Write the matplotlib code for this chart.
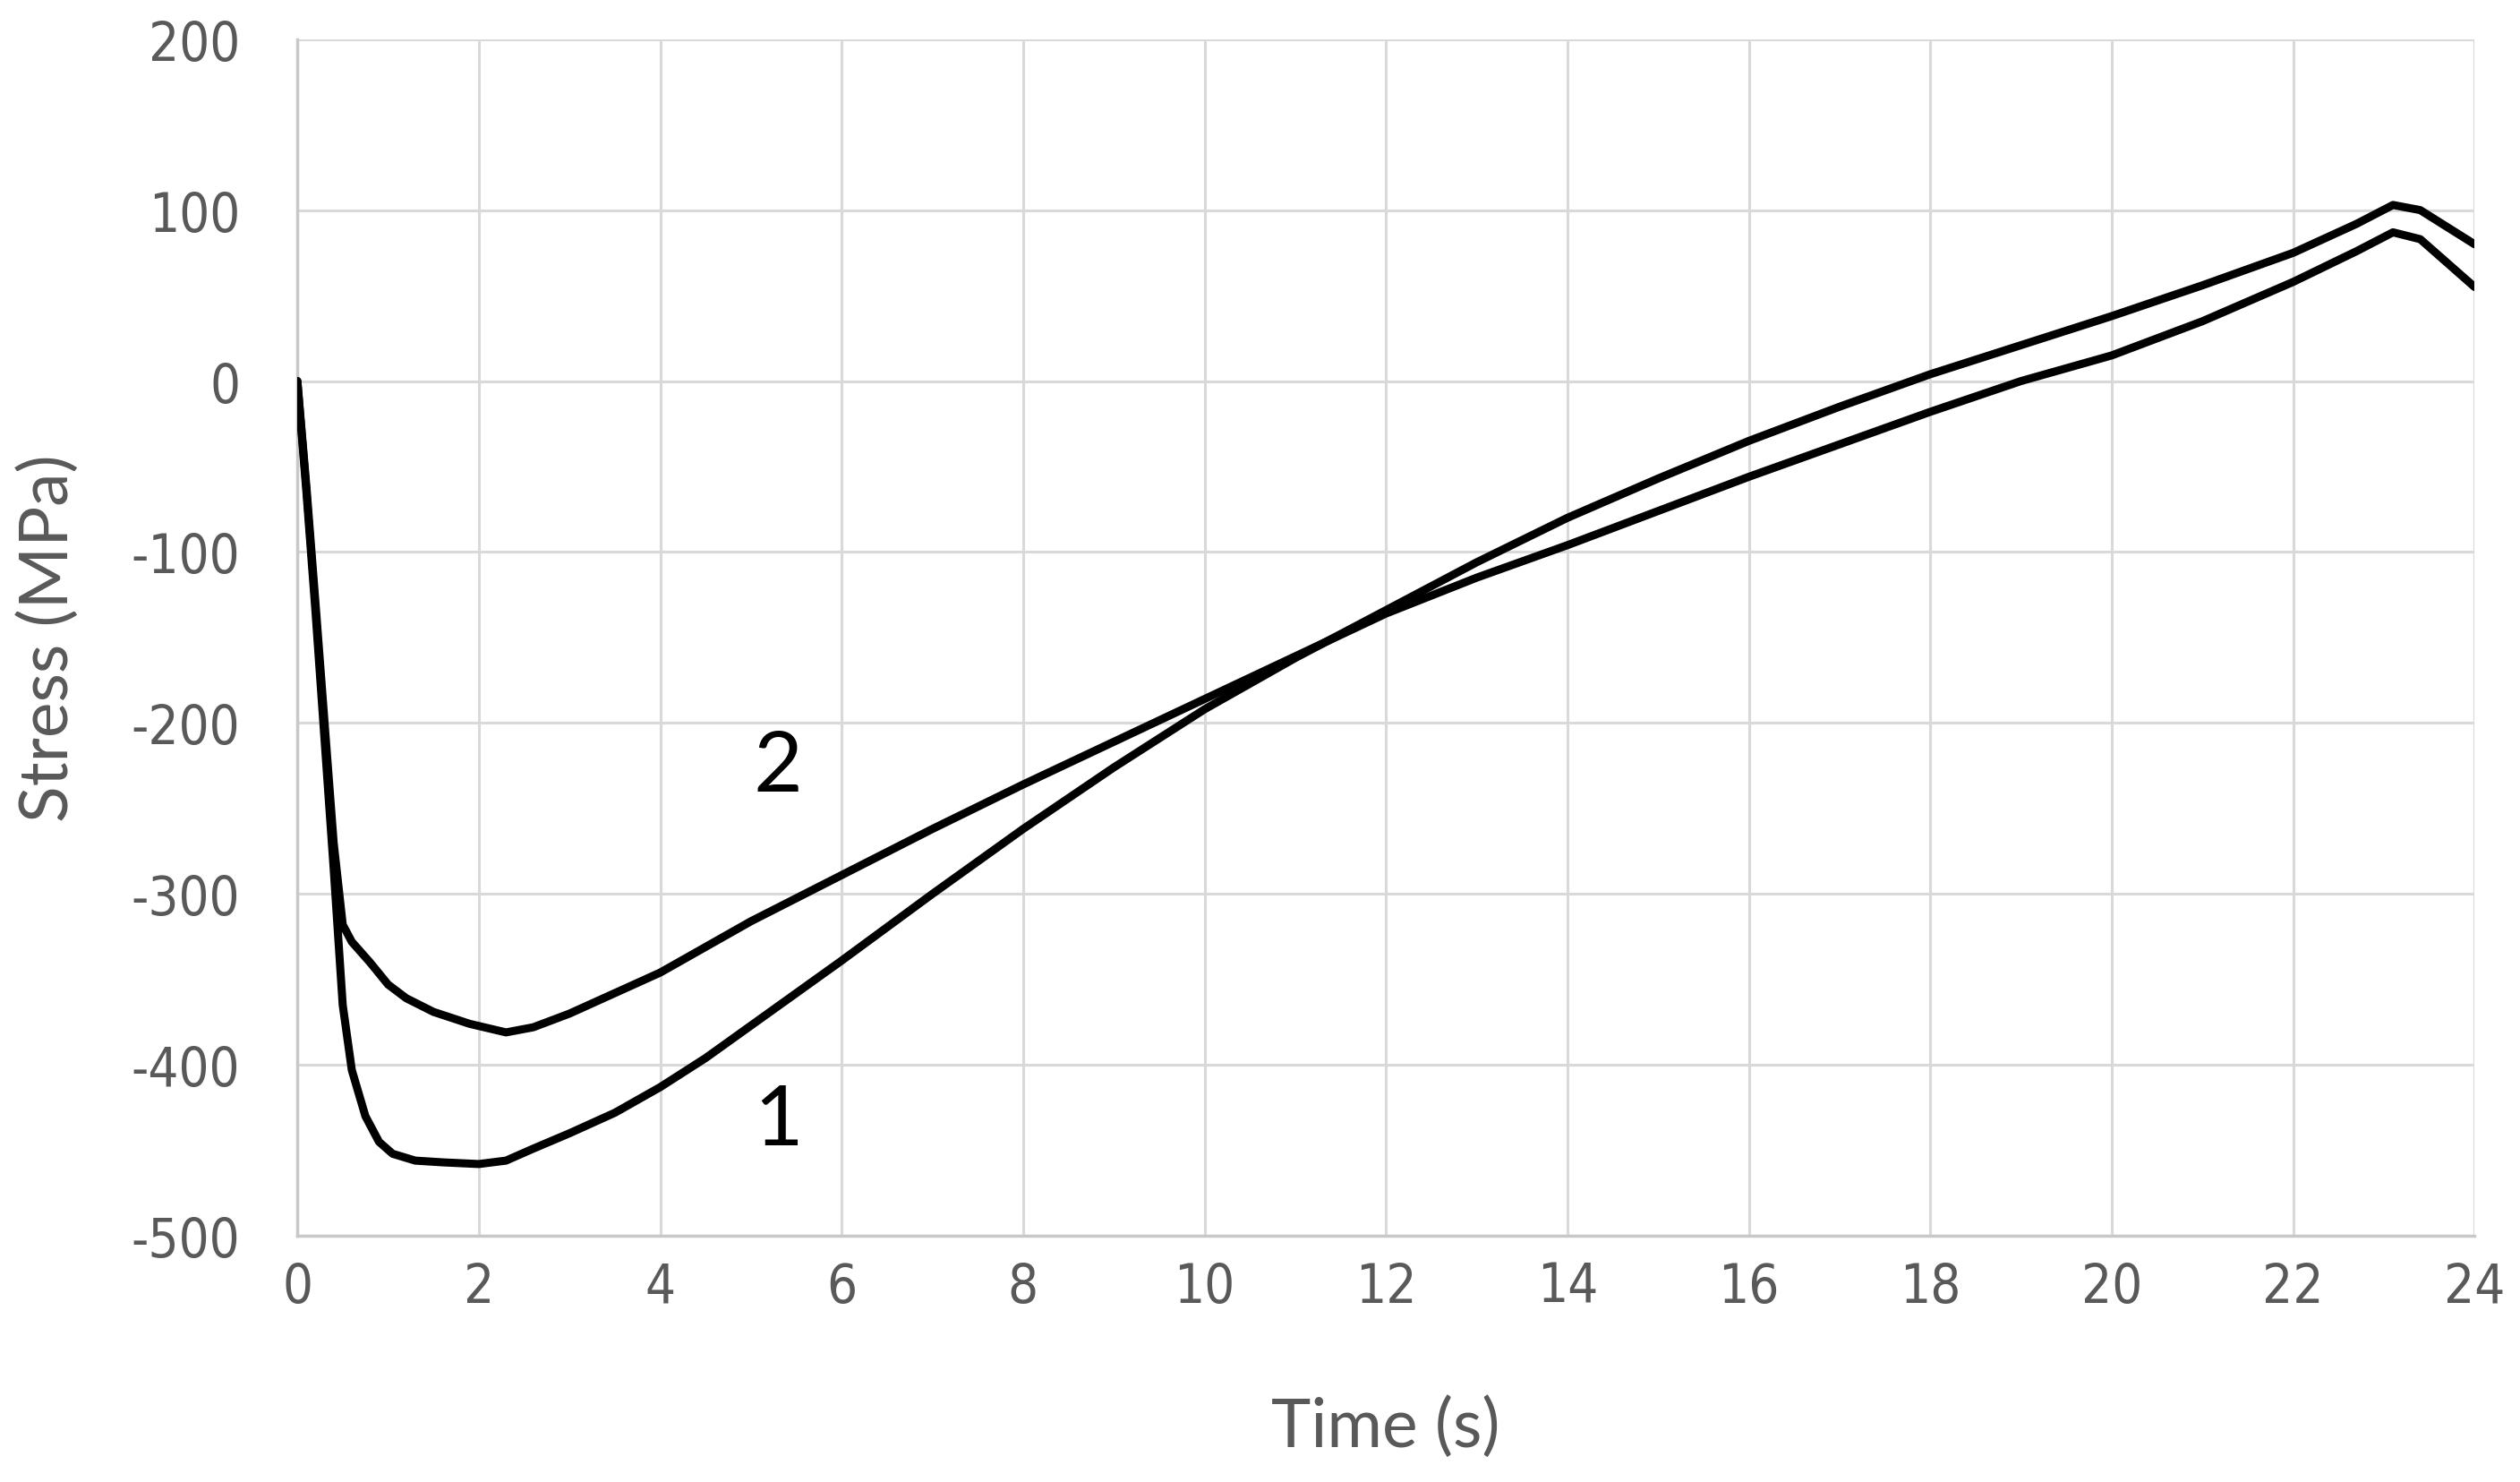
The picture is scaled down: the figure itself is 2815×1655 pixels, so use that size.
import matplotlib
matplotlib.use("Agg")
import matplotlib.pyplot as plt
from matplotlib import font_manager as fm

# ---- data ----
time_1 = [0, 0.1, 0.2, 0.3, 0.4, 0.5, 0.6, 0.75, 0.9, 1.05, 1.3, 1.6, 2.0, 2.3, 2.6, 3.0, 3.5, 4.0, 4.5, 5.0,
          6.0, 7.0, 8.0, 9.0, 10.0, 11.0, 12.0, 13.0, 14.0, 15.0, 16.0, 17.0, 18.0, 19.0, 20.0, 21.0, 22.0,
          22.7, 23.1, 23.4, 24.0]
stress_1 = [0, -65, -135, -210, -285, -365, -403, -430, -445, -452, -456, -457, -458, -456, -449, -440, -428, -413,
            -396, -377, -339, -300, -262, -226, -192, -162, -134, -106, -80, -57, -35, -15, 4, 21, 38, 56, 75,
            92, 103, 100, 80]

time_2 = [0, 0.1, 0.2, 0.3, 0.4, 0.5, 0.6, 0.8, 1.0, 1.2, 1.5, 1.9, 2.3, 2.6, 3.0, 3.5, 4.0, 4.5, 5.0,
          6.0, 7.0, 8.0, 9.0, 10.0, 11.0, 12.0, 13.0, 14.0, 15.0, 16.0, 17.0, 18.0, 19.0, 20.0, 21.0, 22.0,
          22.7, 23.1, 23.4, 24.0]
stress_2 = [0, -62, -130, -200, -270, -318, -328, -340, -353, -361, -369, -376, -381, -378, -370, -358, -346,
            -331, -316, -289, -262, -236, -211, -186, -161, -136, -115, -96, -76, -56, -37, -18, 0, 15, 35, 58,
            76, 87, 83, 55]

x_ticks = list(range(0, 25, 2))
y_ticks = list(range(-500, 201, 100))
curve_labels = ["1", "2"]
label_pos_t = [5.3, 5.3]
label_pos_s = [-433, -226]

# ---- choose a narrow font for tick labels if one is installed ----
names = {f.name for f in fm.fontManager.ttflist}
tick_font = None
if 'Liberation Sans Narrow' in names:
    tick_font = dict(family='Liberation Sans Narrow')
else:
    cond = [f for f in fm.fontManager.ttflist if f.name == 'DejaVu Sans' and 'ondensed' in f.fname
            and f.weight in (400, 'normal') and f.style == 'normal']
    if cond:
        tick_font = dict(fname=cond[0].fname)

# ---- figure ----
plt.rcParams['font.family'] = ['Lato', 'DejaVu Sans']
plt.rcParams['axes.unicode_minus'] = False
fig = plt.figure(figsize=(28.15, 16.56), dpi=100)
ax = fig.add_axes([0.118, 0.166, 0.864, 0.807])

ax.plot(time_1, stress_1, color='black', lw=6.5, solid_joinstyle='round', solid_capstyle='round', zorder=3)
ax.plot(time_2, stress_2, color='black', lw=6.5, solid_joinstyle='round', solid_capstyle='round', zorder=3)

for lab, t, s in zip(curve_labels, label_pos_t, label_pos_s):
    ax.text(t, s, lab, fontsize=68, color='black', ha='center', va='center')

ax.set_xlim(0, 24)
ax.set_ylim(-500, 200)
ax.set_xticks(x_ticks)
ax.set_yticks(y_ticks)
ax.grid(True, color='#d9d9d9', lw=2.2, zorder=0)
ax.set_axisbelow(True)

for side in ['top', 'right']:
    ax.spines[side].set_visible(False)
for side in ['left', 'bottom']:
    ax.spines[side].set_color('#c8c8c8')
    ax.spines[side].set_linewidth(2.5)

ax.tick_params(axis='both', length=0, labelsize=43, labelcolor='#595959')
ax.tick_params(axis='y', pad=46)
ax.tick_params(axis='x', pad=20)
if tick_font is not None:
    fp = fm.FontProperties(size=43, **tick_font)
    for lbl in ax.get_xticklabels() + ax.get_yticklabels():
        lbl.set_fontproperties(fp)

ax.set_xlabel("Time (s)", fontsize=54, color='#595959')
ax.set_ylabel("Stress (MPa)", fontsize=54, color='#595959')
ax.xaxis.set_label_coords(0.5, -0.159)
ax.xaxis.label.set_va('center')
ax.yaxis.set_label_coords(-0.1143, 0.5)
ax.yaxis.label.set_va('center')

fig.savefig("out.png", dpi=100, facecolor='white')
